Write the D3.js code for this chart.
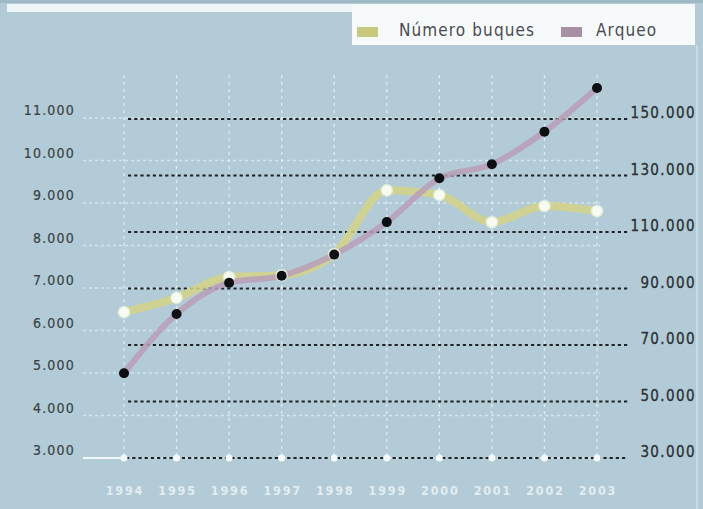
<!DOCTYPE html>
<html><head><meta charset="utf-8">
<script src="https://cdn.jsdelivr.net/npm/d3@7"></script>
<style>
html,body{margin:0;padding:0;background:#b3cbd6;}
svg{display:block;}
text{font-family:"DejaVu Sans Condensed","Liberation Sans Narrow",sans-serif;}
</style></head>
<body>
<svg id="c" width="703" height="509"></svg>
<script>
const years = ["1994","1995","1996","1997","1998","1999","2000","2001","2002","2003"];
const numeroBuques = [6430, 6770, 7260, 7300, 7800, 9300, 9190, 8550, 8930, 8810];
const arqueo = [60000, 81000, 92000, 94500, 102000, 113500, 129000, 134000, 145500, 161000];
const leftTicks = [3000,4000,5000,6000,7000,8000,9000,10000,11000];
const rightTicks = [30000,50000,70000,90000,110000,130000,150000];
const seriesNames = ["Número buques","Arqueo"];

const fmt = v => d3.format(",")(v).replace(/,/g,".");
const svg = d3.select("#c");
const W = 703, H = 509;

svg.append("rect").attr("width",W).attr("height",H).attr("fill","#b3cbd6");
// top white band and legend box
svg.append("rect").attr("x",0).attr("y",0).attr("width",W).attr("height",3).attr("fill","#9fb9c6");
svg.append("rect").attr("x",7).attr("y",4).attr("width",350).attr("height",8).attr("fill","#eef6f8");
svg.append("rect").attr("x",352).attr("y",4).attr("width",343).attr("height",41).attr("fill","#f7fafa");
svg.append("line").attr("x1",697).attr("x2",697).attr("y1",45).attr("y2",H).attr("stroke","#c9dbe3").attr("stroke-width",2);

const x = d3.scalePoint().domain(years).range([124,597]);
const yL = d3.scaleLinear().domain([3000,11000]).range([458,118]);
const yR = d3.scaleLinear().domain([30000,150000]).range([458,119]);

// vertical white dotted lines
svg.append("g").selectAll("line").data(years).join("line")
  .attr("x1",d=>x(d)).attr("x2",d=>x(d)).attr("y1",75).attr("y2",458)
  .attr("stroke","#eef6fa").attr("stroke-opacity",0.75).attr("stroke-width",1.3).attr("stroke-dasharray","3,4");

// left white dotted gridlines
svg.append("g").selectAll("line").data(leftTicks).join("line")
  .attr("x1",83).attr("x2",600).attr("y1",d=>yL(d)).attr("y2",d=>yL(d))
  .attr("stroke","#eef6fa").attr("stroke-opacity",0.6).attr("stroke-width",1.3).attr("stroke-dasharray","3,3");
svg.append("line").attr("x1",83).attr("x2",124).attr("y1",yL(3000)).attr("y2",yL(3000))
  .attr("stroke","#f2f8fa").attr("stroke-width",2);

// left labels
svg.append("g").selectAll("text").data(leftTicks).join("text")
  .attr("x",75).attr("y",d=>yL(d)-3).attr("text-anchor","end")
  .attr("font-size",14).attr("letter-spacing",1.2).attr("fill","#3a4246").attr("stroke","#3a4246").attr("stroke-width",0.2)
  .text(d=>fmt(d));

// right black dashed lines
svg.append("g").selectAll("line").data(rightTicks).join("line")
  .attr("x1",d=>d===30000?126:128).attr("x2",628).attr("y1",d=>yR(d)).attr("y2",d=>yR(d))
  .attr("stroke","#1d2327").attr("stroke-width",2).attr("stroke-dasharray","3.2,3");
svg.append("g").selectAll("text").data(rightTicks).join("text")
  .attr("x",696).attr("y",d=>yR(d)-1).attr("text-anchor","end")
  .attr("font-size",15).attr("letter-spacing",1.4).attr("fill","#2a3034").attr("stroke","#2a3034").attr("stroke-width",0.3)
  .text(d=>fmt(d));

// x axis white dots and year labels
svg.append("g").selectAll("circle").data(years).join("circle")
  .attr("cx",d=>x(d)).attr("cy",458).attr("r",3.5).attr("fill","#f4fafc");
svg.append("g").selectAll("text").data(years).join("text")
  .attr("x",d=>x(d)+1).attr("y",495).attr("text-anchor","middle")
  .attr("font-size",12.5).attr("font-weight","bold").attr("letter-spacing",1.8).attr("fill","#e9f2f5").attr("fill-opacity",0.9)
  .text(d=>d);

// lines
const lineL = d3.line().x((d,i)=>x(years[i])).y(d=>yL(d)).curve(d3.curveMonotoneX);
const lineR = d3.line().x((d,i)=>x(years[i])).y(d=>yR(d)).curve(d3.curveMonotoneX);
svg.append("path").datum(numeroBuques).attr("d",lineL).attr("fill","none")
  .attr("stroke","#d4d486").attr("stroke-opacity",0.85).attr("stroke-width",8).attr("stroke-linejoin","round").attr("stroke-linecap","round");
svg.append("path").datum(arqueo).attr("d",lineR).attr("fill","none")
  .attr("stroke","#b99fb8").attr("stroke-opacity",0.85).attr("stroke-width",6).attr("stroke-linejoin","round").attr("stroke-linecap","round");

// points
svg.append("g").selectAll("circle").data(numeroBuques).join("circle")
  .attr("cx",(d,i)=>x(years[i])).attr("cy",d=>yL(d)).attr("r",5.5)
  .attr("fill","#f7fbf2").attr("stroke","#e8f4e0").attr("stroke-opacity",0.6).attr("stroke-width",2);
svg.append("g").selectAll("circle").data(arqueo).join("circle")
  .attr("cx",(d,i)=>x(years[i])).attr("cy",d=>yR(d)).attr("r",5).attr("fill","#0d0f12");

// legend
const lg = svg.append("g");
lg.append("rect").attr("x",357).attr("y",27).attr("width",21).attr("height",10).attr("fill","#c8c97e");
lg.append("text").attr("x",399).attr("y",36).attr("font-size",17).attr("letter-spacing",1.1).attr("fill","#4a4a52").text(seriesNames[0]);
lg.append("rect").attr("x",561).attr("y",27).attr("width",21).attr("height",10).attr("fill","#a98fa4");
lg.append("text").attr("x",596).attr("y",36).attr("font-size",17).attr("letter-spacing",1.1).attr("fill","#4a4a52").text(seriesNames[1]);
</script>
</body></html>
